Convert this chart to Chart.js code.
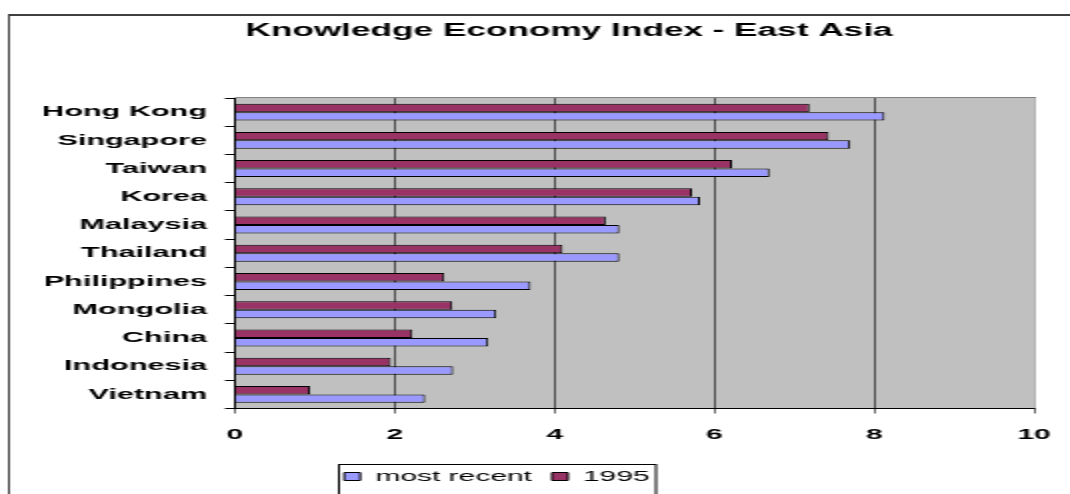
<!DOCTYPE html>
<html>
<head>
<meta charset="utf-8">
<script src="https://cdn.jsdelivr.net/npm/chart.js@4/dist/chart.umd.min.js"></script>
<style>
  body { margin: 0; background: #fff; }
  /* drawn at half width, shown stretched */
  #kei { display: block; width: 1070px !important; height: 494px !important; }
</style>
</head>
<body>
<canvas id="kei" width="535" height="494"></canvas>
<script>
const countries = ["Hong Kong", "Singapore", "Taiwan", "Korea", "Malaysia", "Thailand",
                   "Philippines", "Mongolia", "China", "Indonesia", "Vietnam"];
const mostRecent = [8.13, 7.70, 6.69, 5.82, 4.81, 4.81, 3.70, 3.27, 3.17, 2.73, 2.38];
const year1995 = [7.19, 7.43, 6.22, 5.72, 4.64, 4.10, 2.62, 2.72, 2.22, 1.95, 0.94];
const xTicks = [0, 2, 4, 6, 8, 10];

const FONT = "'Liberation Sans', Arial, sans-serif";

// grey plot background, frame and legend box
const frame = {
    id: "frame",
    afterLayout(chart) {
        // title over the middle of the frame, legend under the plot's left half
        chart.titleBlock.left += 26;
        chart.titleBlock.right += 26;
        chart.legend.left -= 10;
        chart.legend.right -= 10;
    },
    beforeDraw(chart) {
        const {ctx, chartArea: a} = chart;
        ctx.save();
        ctx.fillStyle = "#fff";
        ctx.fillRect(0, 0, chart.width, chart.height);
        ctx.fillStyle = "#404040";
        ctx.fillRect(4, 14, 600, 2);
        ctx.fillRect(4, 14, 1, 600);
        ctx.fillStyle = "#c0c0c0";
        ctx.fillRect(a.left, a.top, a.right - a.left, a.bottom - a.top);
        ctx.fillStyle = "#808080";
        ctx.fillRect(a.left, a.top - 1, a.right - a.left + 1, 1);
        ctx.restore();
    },
    afterDraw(chart) {
        const {ctx} = chart;
        ctx.save();
        ctx.strokeStyle = "#000";
        ctx.lineWidth = 1;
        ctx.strokeRect(169.5, 464.5, 158.5, 60);
        ctx.restore();
    }
};

new Chart(document.getElementById("kei"), {
    type: "bar",
    data: {
        labels: countries,
        datasets: [
            {
                label: "1995",
                data: year1995,
                backgroundColor: "#993366",
                borderColor: "#000",
                borderWidth: 1
            },
            {
                label: "most recent",
                data: mostRecent,
                backgroundColor: "#9999ff",
                borderColor: "#000",
                borderWidth: 1
            }
        ]
    },
    options: {
        indexAxis: "y",
        responsive: false,
        animation: false,
        devicePixelRatio: 1,
        categoryPercentage: 0.6,
        barPercentage: 1.0,
        layout: { padding: { left: 0, right: 18, top: 0, bottom: 0 } },
        plugins: {
            title: {
                display: true,
                text: "Knowledge Economy Index - East Asia",
                color: "#000",
                font: { family: FONT, size: 17.6, weight: "bold" },
                padding: { top: 21, bottom: 55.9 }
            },
            legend: {
                position: "bottom",
                reverse: true,
                labels: {
                    color: "#000",
                    font: { family: FONT, size: 15 },
                    boxWidth: 8,
                    boxHeight: 8,
                    padding: 10
                }
            },
            tooltip: { enabled: false }
        },
        scales: {
            x: {
                min: 0,
                max: 10,
                afterBuildTicks: s => { s.ticks = xTicks.map(v => ({ value: v })); },
                afterFit: s => {
                    s.height = 50.5;
                    s.paddingRight = 0;
                },
                grid: {
                    color: c => (c.tick && c.tick.value === 10 ? "#808080" : "#000"),
                    tickColor: "#000",
                    tickLength: 5,
                    lineWidth: 0.6
                },
                border: { display: true, color: "#000", width: 1 },
                ticks: {
                    color: "#000",
                    padding: 12,
                    font: { family: FONT, size: 15, weight: "bold" }
                }
            },
            y: {
                afterFit: s => { s.width = 117.5; },
                grid: {
                    offset: true,
                    drawOnChartArea: false,
                    drawTicks: true,
                    tickLength: 5,
                    tickColor: "#000"
                },
                border: { display: true, color: "#000", width: 1 },
                ticks: {
                    color: "#000",
                    padding: 9,
                    autoSkip: false,
                    font: { family: FONT, size: 15.3, weight: "bold" }
                }
            }
        }
    },
    plugins: [frame]
});
</script>
</body>
</html>
